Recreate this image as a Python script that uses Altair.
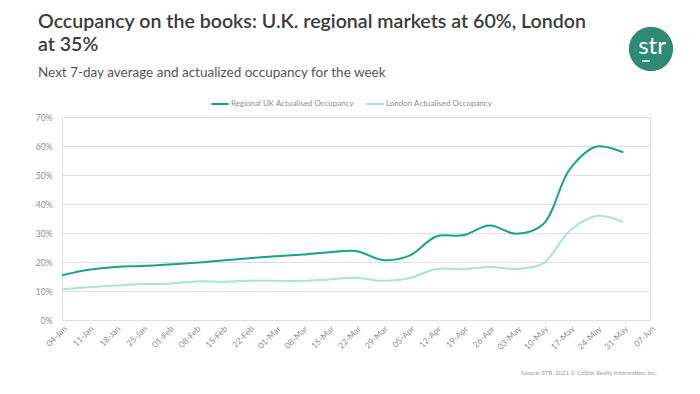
import altair as alt
import pandas as pd

weeks = ["04-Jan", "11-Jan", "18-Jan", "25-Jan", "01-Feb", "08-Feb", "15-Feb", "22-Feb",
         "01-Mar", "08-Mar", "15-Mar", "22-Mar", "29-Mar", "05-Apr", "12-Apr", "19-Apr",
         "26-Apr", "03-May", "10-May", "17-May", "24-May", "31-May", "07-Jun"]
regional = [15.4, 17.3, 18.3, 18.6, 19.1, 19.7, 20.5, 21.3, 22.0, 22.6, 23.4, 23.8,
            20.7, 22.2, 28.8, 29.2, 32.6, 29.7, 33.0, 52.0, 59.8, 57.8]
london = [10.6, 11.3, 11.9, 12.4, 12.5, 13.3, 13.2, 13.5, 13.5, 13.5, 14.0, 14.6,
          13.5, 14.4, 17.6, 17.5, 18.3, 17.6, 19.5, 30.8, 35.9, 33.8]
series_names = ["Regional UK Actualised Occupancy", "London Actualised Occupancy"]
series_colors = ["#17a386", "#a8e4d8"]
title_lines = ["Occupancy on the books: U.K. regional markets at 60%, London", "at 35%"]
subtitle = "Next 7-day average and actualized occupancy for the week"
source_note = "Source: STR. 2021 © CoStar Realty Information, Inc."

rows = []
for name, vals in zip(series_names, [regional, london]):
    for w, v in zip(weeks, vals):
        rows.append({"week": w, "occ": v / 100, "series": name})
df = pd.DataFrame(rows)

W, H = 588, 203
font = "Lato"
gray = "#8c8c8c"
one = pd.DataFrame({"a": [0]})

lines = alt.Chart(df).mark_line(strokeWidth=2, interpolate="catmull-rom").encode(
    x=alt.X("week:N", sort=weeks,
            scale=alt.Scale(type="point", domain=weeks, padding=0),
            axis=alt.Axis(title=None, labelAngle=-45, labelFontSize=8.5, labelColor=gray,
                          labelFont=font, domain=False, ticks=False, grid=False,
                          labelPadding=4)),
    y=alt.Y("occ:Q", scale=alt.Scale(domain=[0, 0.7], nice=False),
            axis=alt.Axis(title=None, format=".0%", values=[0, .1, .2, .3, .4, .5, .6, .7],
                          labelFontSize=8.5, labelColor=gray, labelFont=font,
                          domain=False, ticks=False, gridColor="#dedede",
                          labelPadding=10)),
    color=alt.Color("series:N", sort=series_names,
                    scale=alt.Scale(domain=series_names, range=series_colors),
                    legend=alt.Legend(title=None, orient="none", direction="horizontal",
                                      legendX=148, legendY=-23, symbolType="stroke",
                                      symbolStrokeWidth=2, symbolSize=300,
                                      labelFontSize=8, labelColor=gray, labelFont=font,
                                      columnPadding=8, labelOffset=1)),
)

title1 = alt.Chart(one).mark_text(
    text=title_lines[0], color="#3b3b3b", fontSize=19.6, font=font, fontWeight=600,
    align="left", baseline="alphabetic"
).encode(x=alt.value(-24), y=alt.value(-89))
title2 = alt.Chart(one).mark_text(
    text=title_lines[1], color="#3b3b3b", fontSize=19.6, font=font, fontWeight=600,
    align="left", baseline="alphabetic"
).encode(x=alt.value(-24), y=alt.value(-66))
sub = alt.Chart(one).mark_text(
    text=subtitle, color="#555555", fontSize=13.5, font=font,
    align="left", baseline="alphabetic"
).encode(x=alt.value(-24), y=alt.value(-40))

logo = alt.Chart(one).mark_circle(
    color="#2e8a72", opacity=1, size=1960
).encode(x=alt.value(589), y=alt.value(-68))
logo_text = alt.Chart(one).mark_text(
    text="str", color="white", fontSize=24, font=font, baseline="middle", align="center"
).encode(x=alt.value(590), y=alt.value(-70))
logo_line = alt.Chart(one).mark_rule(
    color="white", strokeWidth=1.5
).encode(x=alt.value(580), x2=alt.value(588), y=alt.value(-56))

source = alt.Chart(one).mark_text(
    text=source_note, color="#9a9a9a",
    fontSize=6, font=font, align="right", baseline="middle"
).encode(x=alt.value(595), y=alt.value(256))

chart = alt.layer(lines, title1, title2, sub, logo, logo_text, logo_line, source).properties(
    width=W, height=H,
    padding={"left": 54, "top": 109, "right": 42, "bottom": 66},
    autosize=alt.AutoSizeParams(type="none"),
).configure_view(stroke=None).configure(background="white")

chart.save("out.html", embed_options={"renderer": "svg", "actions": False})
